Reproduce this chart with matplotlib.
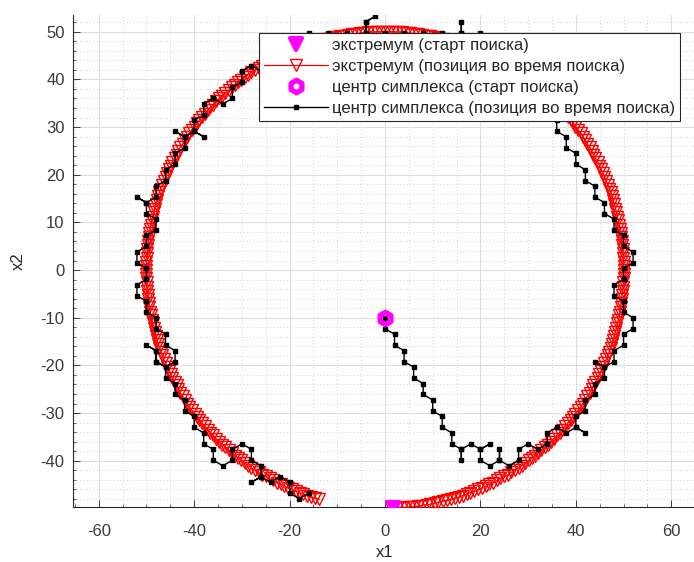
import matplotlib
matplotlib.use("Agg")
import matplotlib.pyplot as plt
from matplotlib.markers import MarkerStyle
from matplotlib.ticker import MultipleLocator

plt.rcParams['font.family'] = ['Liberation Sans', 'DejaVu Sans']
plt.rcParams['axes.unicode_minus'] = False

# extremum position during the search (dense points on r~50)
ext_x = [1.7, 2.6, 3.5, 4.4, 5.2, 6.1, 7.0, 7.8, 8.7, 9.5, 10.4, 11.2, 12.1, 12.9, 13.8, 14.6, 15.5, 16.3,
         17.1, 17.9, 18.7, 19.5, 20.3, 21.1, 21.9, 22.7, 23.5, 24.2, 25.0, 25.8, 26.5, 27.2, 28.0, 28.7,
         29.4, 30.1, 30.8, 31.5, 32.1, 32.8, 33.5, 34.1, 34.7, 35.4, 36.0, 36.6, 37.2, 37.7, 38.3, 38.9,
         39.4, 39.9, 40.5, 41.0, 41.5, 41.9, 42.4, 42.9, 43.3, 43.7, 44.1, 44.6, 44.9, 45.3, 45.7, 46.0,
         46.4, 46.7, 47.0, 47.3, 47.6, 47.8, 48.1, 48.3, 48.5, 48.7, 48.9, 49.1, 49.2, 49.4, 49.5, 49.6,
         49.7, 49.8, 49.9, 49.9, 50.0, 50.0, 50.0,
         50.0, 50.0, 49.9, 49.9, 49.8, 49.7, 49.6, 49.5, 49.4, 49.2, 49.1, 48.9, 48.7, 48.5, 48.3, 48.1,
         47.8, 47.6, 47.3, 47.0, 46.7, 46.4, 46.0, 45.7, 45.3, 44.9, 44.6, 44.1, 43.7, 43.3, 42.9, 42.4,
         41.9, 41.5, 41.0, 40.5, 39.9, 39.4, 38.9, 38.3, 37.7, 37.2, 36.6, 36.0, 35.4, 34.7, 34.1, 33.5,
         32.8, 32.1, 31.5, 30.8, 30.1, 29.4, 28.7, 28.0, 27.2, 26.5, 25.8, 25.0, 24.2, 23.5, 22.7, 21.9,
         21.1, 20.3, 19.5, 18.7, 17.9, 17.1, 16.3, 15.5, 14.6, 13.8, 12.9, 12.1, 11.2, 10.4, 9.5, 8.7,
         7.8, 7.0, 6.1, 5.2, 4.4, 3.5, 2.6, 1.7, 0.9, 0.0,
         -0.9, -1.7, -2.6, -3.5, -4.4, -5.2, -6.1, -7.0, -7.8, -8.7, -9.5, -10.4, -11.2, -12.1, -12.9,
         -13.8, -14.6, -15.5, -16.3, -17.1, -17.9, -18.7, -19.5, -20.3, -21.1, -21.9, -22.7, -23.5, -24.2,
         -25.0, -25.8, -26.5, -27.2, -28.0, -28.7, -29.4, -30.1, -30.8, -31.5, -32.1, -32.8, -33.5, -34.1,
         -34.7, -35.4, -36.0, -36.6, -37.2, -37.7, -38.3, -38.9, -39.4, -39.9, -40.5, -41.0, -41.5, -41.9,
         -42.4, -42.9, -43.3, -43.7, -44.1, -44.6, -44.9, -45.3, -45.7, -46.0, -46.4, -46.7, -47.0, -47.3,
         -47.6, -47.8, -48.1, -48.3, -48.5, -48.7, -48.9, -49.1, -49.2, -49.4, -49.5, -49.6, -49.7, -49.8,
         -49.9, -49.9, -50.0, -50.0, -50.0,
         -50.0, -50.0, -49.9, -49.9, -49.8, -49.7, -49.6, -49.5, -49.4, -49.2, -49.1, -48.9, -48.7, -48.5,
         -48.3, -48.1, -47.8, -47.6, -47.3, -47.0, -46.7, -46.4, -46.0, -45.7, -45.3, -44.9, -44.6, -44.1,
         -43.7, -43.3, -42.9, -42.4, -41.9, -41.5, -41.0, -40.5, -39.9, -39.4, -38.9, -38.3, -37.7, -37.2,
         -36.6, -36.0, -35.4, -34.7, -34.1, -33.5, -32.8, -32.1, -31.5, -30.8, -30.1, -29.4, -28.7, -28.0,
         -27.2, -26.5, -25.8, -25.0, -24.2, -23.5, -22.7, -21.9, -21.1, -20.3, -19.5, -18.7, -17.9, -17.1,
         -16.3, -15.5, -14.6, -13.8]
ext_y = [-50.0, -49.9, -49.9, -49.8, -49.7, -49.6, -49.5, -49.4, -49.2, -49.1, -48.9, -48.7, -48.5, -48.3,
         -48.1, -47.8, -47.6, -47.3, -47.0, -46.7, -46.4, -46.0, -45.7, -45.3, -44.9, -44.6, -44.1, -43.7,
         -43.3, -42.9, -42.4, -41.9, -41.5, -41.0, -40.5, -39.9, -39.4, -38.9, -38.3, -37.7, -37.2, -36.6,
         -36.0, -35.4, -34.7, -34.1, -33.5, -32.8, -32.1, -31.5, -30.8, -30.1, -29.4, -28.7, -28.0, -27.2,
         -26.5, -25.8, -25.0, -24.2, -23.5, -22.7, -21.9, -21.1, -20.3, -19.5, -18.7, -17.9, -17.1, -16.3,
         -15.5, -14.6, -13.8, -12.9, -12.1, -11.2, -10.4, -9.5, -8.7, -7.8, -7.0, -6.1, -5.2, -4.4, -3.5,
         -2.6, -1.7, -0.9, 0.0,
         0.9, 1.7, 2.6, 3.5, 4.4, 5.2, 6.1, 7.0, 7.8, 8.7, 9.5, 10.4, 11.2, 12.1, 12.9, 13.8, 14.6, 15.5,
         16.3, 17.1, 17.9, 18.7, 19.5, 20.3, 21.1, 21.9, 22.7, 23.5, 24.2, 25.0, 25.8, 26.5, 27.2, 28.0,
         28.7, 29.4, 30.1, 30.8, 31.5, 32.1, 32.8, 33.5, 34.1, 34.7, 35.4, 36.0, 36.6, 37.2, 37.7, 38.3,
         38.9, 39.4, 39.9, 40.5, 41.0, 41.5, 41.9, 42.4, 42.9, 43.3, 43.7, 44.1, 44.6, 44.9, 45.3, 45.7,
         46.0, 46.4, 46.7, 47.0, 47.3, 47.6, 47.8, 48.1, 48.3, 48.5, 48.7, 48.9, 49.1, 49.2, 49.4, 49.5,
         49.6, 49.7, 49.8, 49.9, 49.9, 50.0, 50.0, 50.0,
         50.0, 50.0, 49.9, 49.9, 49.8, 49.7, 49.6, 49.5, 49.4, 49.2, 49.1, 48.9, 48.7, 48.5, 48.3, 48.1,
         47.8, 47.6, 47.3, 47.0, 46.7, 46.4, 46.0, 45.7, 45.3, 44.9, 44.6, 44.1, 43.7, 43.3, 42.9, 42.4,
         41.9, 41.5, 41.0, 40.5, 39.9, 39.4, 38.9, 38.3, 37.7, 37.2, 36.6, 36.0, 35.4, 34.7, 34.1, 33.5,
         32.8, 32.1, 31.5, 30.8, 30.1, 29.4, 28.7, 28.0, 27.2, 26.5, 25.8, 25.0, 24.2, 23.5, 22.7, 21.9,
         21.1, 20.3, 19.5, 18.7, 17.9, 17.1, 16.3, 15.5, 14.6, 13.8, 12.9, 12.1, 11.2, 10.4, 9.5, 8.7,
         7.8, 7.0, 6.1, 5.2, 4.4, 3.5, 2.6, 1.7, 0.9, 0.0,
         -0.9, -1.7, -2.6, -3.5, -4.4, -5.2, -6.1, -7.0, -7.8, -8.7, -9.5, -10.4, -11.2, -12.1, -12.9,
         -13.8, -14.6, -15.5, -16.3, -17.1, -17.9, -18.7, -19.5, -20.3, -21.1, -21.9, -22.7, -23.5, -24.2,
         -25.0, -25.8, -26.5, -27.2, -28.0, -28.7, -29.4, -30.1, -30.8, -31.5, -32.1, -32.8, -33.5, -34.1,
         -34.7, -35.4, -36.0, -36.6, -37.2, -37.7, -38.3, -38.9, -39.4, -39.9, -40.5, -41.0, -41.5, -41.9,
         -42.4, -42.9, -43.3, -43.7, -44.1, -44.6, -44.9, -45.3, -45.7, -46.0, -46.4, -46.7, -47.0, -47.3,
         -47.6, -47.8, -48.1]

# simplex centre path
cen_x = [0, 0, 2, 2, 4, 4, 6, 6, 8, 8, 10, 10, 12, 12, 14, 14, 16, 16, 16, 18, 20, 22, 20, 20, 22, 24, 24, 24,
         26, 28, 28, 30, 32, 34, 34, 36, 38, 40, 42, 40, 40, 42, 42, 44, 44, 46, 46, 44, 46, 48, 48, 50, 50,
         52, 52, 50, 50, 48, 48, 50, 50, 52, 52, 50, 50, 48, 48, 46, 46, 44, 44, 42, 42, 40, 40, 38, 38,
         36, 36, 34, 34, 32, 32, 30, 30, 28, 26, 24, 24, 22, 22, 20, 18, 16, 16, 16, 14, 12, 10, 8, 6, 4,
         2, 0, -2, -4, -4, -2, -4, -4, -6, -8, -10, -12, -14, -16, -18, -18, -20, -22, -24, -24, -26, -28,
         -30, -30, -32, -32, -34, -36, -38, -38, -40, -40, -38, -40, -42, -44, -42, -42, -44, -44, -46, -46,
         -48, -48, -50, -52, -50, -50, -48, -48, -50, -50, -52, -52, -50, -50, -52, -52, -50, -50, -48, -48,
         -46, -46, -44, -44, -46, -48, -48, -50, -48, -48, -46, -46, -44, -44, -42, -42, -40, -40, -38, -38,
         -36, -36, -34, -32, -32, -30, -28, -28, -26, -26, -28, -26, -24, -22, -20, -20, -18, -16]
cen_y = [-10, -12.3, -13.45, -15.75, -16.9, -19.2, -20.35, -22.65, -23.8, -26.1, -27.25, -29.55, -30.7, -33.0,
         -34.15, -36.45, -37.6, -39.9, -37.6, -36.45, -37.6, -36.45, -37.6, -39.9, -41.05, -39.9, -37.6, -39.9,
         -41.05, -39.9, -37.6, -36.45, -37.6, -36.45, -34.15, -33.0, -34.15, -33.0, -34.15, -33.0, -30.7, -29.55,
         -27.25, -26.1, -23.8, -22.65, -20.35, -19.2, -20.35, -19.2, -16.9, -15.75, -13.45, -12.3, -10.0, -8.85,
         -6.55, -5.4, -3.1, -1.95, 0.35, 1.5, 3.8, 4.95, 7.25, 8.4, 10.7, 11.85, 14.15, 15.3, 17.6, 18.75, 21.05,
         22.2, 24.5, 25.65, 27.95, 29.1, 31.4, 32.55, 34.85, 36.0, 38.3, 39.45, 41.75, 42.9, 41.75, 42.9, 45.2,
         46.35, 48.65, 49.8, 48.65, 49.8, 52.1, 49.8, 48.65, 49.8, 48.65, 49.8, 48.65, 49.8, 48.65, 49.8, 48.65,
         49.8, 52.1, 53.25, 52.1, 49.8, 48.65, 49.8, 48.65, 49.8, 48.65, 49.8, 48.65, 46.35, 45.2, 46.35, 45.2,
         42.9, 41.75, 42.9, 41.75, 39.45, 38.3, 36.0, 34.85, 36.0, 34.85, 32.55, 31.4, 29.1, 27.95, 29.1, 27.95,
         29.1, 27.95, 25.65, 24.5, 22.2, 21.05, 18.75, 17.6, 15.3, 14.15, 15.3, 14.15, 11.85, 10.7, 8.4, 7.25,
         4.95, 3.8, 1.5, 0.35, -1.95, -3.1, -5.4, -6.55, -8.85, -10.0, -12.3, -13.45, -15.75, -16.9, -19.2,
         -20.35, -19.2, -16.9, -15.75, -16.9, -19.2, -20.35, -22.65, -23.8, -26.1, -27.25, -29.55, -30.7, -33.0,
         -34.15, -36.45, -37.6, -39.9, -41.05, -39.9, -37.6, -36.45, -37.6, -39.9, -41.05, -43.35, -44.5, -43.35,
         -44.5, -43.35, -44.5, -46.8, -47.95, -46.8]

ext_start = (1.7, -50.0)
cen_start = (0.0, -10.0)

labels = ['экстремум (старт поиска)',
          'экстремум (позиция во время поиска)',
          'центр симплекса (старт поиска)',
          'центр симплекса (позиция во время поиска)']

axcol = '#262626'
fs = 12

fig = plt.figure(figsize=(6.94, 5.62), dpi=100)
ax = fig.add_axes([73/694, 55/562, 624/694, 492/562])

ax.plot([ext_start[0]], [ext_start[1]], linestyle='none',
        marker=MarkerStyle('v', joinstyle='round'), markersize=8,
        mfc='magenta', mec='magenta', mew=3, label=labels[0], zorder=5)
ax.plot(ext_x, ext_y, color='red', lw=0.9, marker='v', markersize=8, mfc='none',
        mec='red', mew=1.0, label=labels[1], zorder=3)
ax.plot([cen_start[0]], [cen_start[1]], linestyle='none',
        marker=MarkerStyle('h', joinstyle='round'), markersize=9,
        mfc='none', mec='magenta', mew=3.8, label=labels[2], zorder=5)
ax.plot(cen_x, cen_y, color='black', lw=1, marker='s', markersize=2.6,
        mfc='black', mec='black', label=labels[3], zorder=4)

ax.set_xlim(-65.4, 65.4)
ax.set_ylim(-49.7, 53.5)

ax.xaxis.set_major_locator(MultipleLocator(20))
ax.xaxis.set_minor_locator(MultipleLocator(5))
ax.yaxis.set_major_locator(MultipleLocator(10))
ax.yaxis.set_minor_locator(MultipleLocator(2))
ax.set_yticks([-40, -30, -20, -10, 0, 10, 20, 30, 40, 50])

ax.grid(which='major', color='#dedede', lw=0.8, ls='-')
ax.grid(which='minor', color='#c4c4c4', lw=0.6, ls=(0, (1, 3)))
ax.set_axisbelow(True)

for s in ['top', 'right']:
    ax.spines[s].set_visible(False)
for s in ['left', 'bottom']:
    ax.spines[s].set_color(axcol)
    ax.spines[s].set_linewidth(0.8)

ax.tick_params(which='both', direction='in', colors=axcol, labelsize=fs, labelcolor='#3a3a3a')
ax.tick_params(which='major', length=5, width=0.6)
ax.tick_params(axis='x', which='major', pad=12)
ax.tick_params(axis='y', which='major', pad=6)
ax.tick_params(which='minor', length=2.5, width=0.5)

ax.set_xlabel('x1', fontsize=fs, color=axcol)
ax.set_ylabel('x2', fontsize=fs, color=axcol)
ax.xaxis.set_label_coords(0.5, -0.077)
ax.yaxis.set_label_coords(-0.075, 0.5)

leg = ax.legend(loc='upper right', bbox_to_anchor=(680/694, 1 - 33/562),
                bbox_transform=fig.transFigure, borderaxespad=0, fancybox=False,
                framealpha=1, edgecolor=axcol, fontsize=fs, handlelength=3.8,
                handletextpad=0.25, labelspacing=0.35, borderpad=0.3)
leg.get_frame().set_linewidth(0.8)
for t in leg.get_texts():
    t.set_color('#262626')

fig.savefig('out.png', dpi=100, facecolor='white')
